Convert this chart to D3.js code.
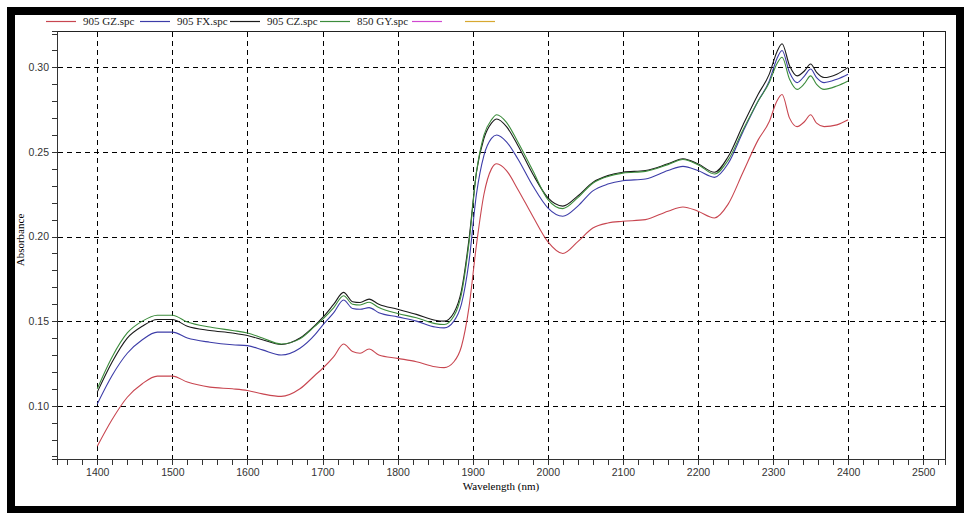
<!DOCTYPE html>
<html>
<head>
<meta charset="utf-8">
<script src="https://cdn.jsdelivr.net/npm/d3@7"></script>
<style>
  body { margin: 0; background: #fff; }
  .tick text { font-family: "Liberation Sans", Arial, sans-serif; font-size: 10.5px; fill: #333; }
  .axis path, .axis line { stroke: #333; shape-rendering: crispEdges; }
  .grid line { stroke: #000; stroke-dasharray: 5,4; shape-rendering: crispEdges; }
  .series { fill: none; stroke-width: 1.1; }
</style>
</head>
<body>
<div id="chart"></div>
<script>
// wavelengths (nm) shared by all spectra
const wavelengths = [1400, 1420, 1440, 1460, 1480, 1500, 1520, 1550, 1580, 1600, 1620, 1645, 1670, 1690, 1700, 1715, 1728, 1740, 1750, 1762, 1775, 1800, 1825, 1850, 1862, 1875, 1885, 1895, 1905, 1915, 1925, 1932, 1945, 1960, 1980, 2000, 2020, 2040, 2060, 2080, 2100, 2130, 2160, 2180, 2200, 2222, 2240, 2260, 2280, 2295, 2305, 2312, 2322, 2332, 2342, 2350, 2358, 2368, 2385, 2400];

const gz905 = [0.076, 0.092, 0.105, 0.113, 0.1175, 0.1175, 0.114, 0.111, 0.110, 0.109, 0.107, 0.1055, 0.110, 0.118, 0.122, 0.129, 0.1365, 0.132, 0.131, 0.1335, 0.130, 0.128, 0.126, 0.123, 0.1225, 0.126, 0.135, 0.158, 0.195, 0.225, 0.240, 0.243, 0.239, 0.228, 0.212, 0.197, 0.190, 0.197, 0.205, 0.208, 0.209, 0.210, 0.215, 0.2175, 0.215, 0.211, 0.219, 0.238, 0.257, 0.268, 0.280, 0.284, 0.270, 0.265, 0.268, 0.272, 0.267, 0.265, 0.266, 0.269];

const fx905 = [0.101, 0.118, 0.131, 0.139, 0.1435, 0.1435, 0.140, 0.1375, 0.136, 0.1355, 0.133, 0.130, 0.134, 0.142, 0.1475, 0.155, 0.1625, 0.1575, 0.157, 0.158, 0.155, 0.1525, 0.150, 0.1465, 0.146, 0.150, 0.160, 0.185, 0.225, 0.248, 0.258, 0.260, 0.256, 0.246, 0.230, 0.217, 0.212, 0.218, 0.227, 0.231, 0.233, 0.234, 0.239, 0.2415, 0.239, 0.235, 0.243, 0.262, 0.280, 0.292, 0.305, 0.310, 0.297, 0.291, 0.295, 0.299, 0.294, 0.291, 0.293, 0.296];

const cz905 = [0.108, 0.126, 0.140, 0.147, 0.151, 0.151, 0.147, 0.1445, 0.143, 0.1415, 0.139, 0.1362, 0.140, 0.1475, 0.152, 0.160, 0.167, 0.1615, 0.161, 0.163, 0.160, 0.157, 0.154, 0.1505, 0.150, 0.155, 0.168, 0.198, 0.238, 0.258, 0.267, 0.2695, 0.265, 0.254, 0.237, 0.223, 0.218, 0.224, 0.232, 0.236, 0.238, 0.239, 0.243, 0.246, 0.243, 0.238, 0.247, 0.266, 0.284, 0.296, 0.309, 0.314, 0.301, 0.295, 0.298, 0.302, 0.297, 0.294, 0.296, 0.300];

const gy850 = [0.110, 0.129, 0.143, 0.150, 0.1535, 0.1535, 0.1495, 0.1465, 0.1445, 0.143, 0.140, 0.1365, 0.1395, 0.147, 0.151, 0.158, 0.165, 0.160, 0.1595, 0.1612, 0.158, 0.1545, 0.152, 0.1485, 0.148, 0.153, 0.166, 0.196, 0.238, 0.260, 0.269, 0.272, 0.2675, 0.256, 0.239, 0.222, 0.2165, 0.223, 0.2315, 0.2355, 0.2375, 0.2385, 0.2425, 0.2455, 0.2425, 0.237, 0.245, 0.263, 0.280, 0.291, 0.302, 0.306, 0.293, 0.287, 0.2905, 0.295, 0.290, 0.287, 0.289, 0.292];

const legendNames = ["905 GZ.spc", "905 FX.spc", "905 CZ.spc", "850 GY.spc", "", ""];
const legendColors = ["#c84650", "#3c3ca8", "#1a1a1a", "#3c8c3c", "#d048d0", "#d8a830"];

const xMajor = d3.range(1400, 2501, 100);
const xMinor = d3.range(1360, 2521, 20);
const yMajor = [0.10, 0.15, 0.20, 0.25, 0.30];
const yMinor = d3.range(7, 33).map(d => d / 100);

const W = 964, H = 513;
const svg = d3.select("#chart").append("svg")
    .attr("width", W)
    .attr("height", H);

svg.append("rect").attr("width", W).attr("height", H).attr("fill", "#fff");

// black frame of the screenshot
svg.append("rect").attr("x", 7).attr("y", 7).attr("width", 8).attr("height", H - 7).attr("fill", "#000");
svg.append("rect").attr("x", 7).attr("y", 7).attr("width", W - 7).attr("height", 8).attr("fill", "#000");
svg.append("rect").attr("x", 7).attr("y", 506).attr("width", W - 7).attr("height", 7).attr("fill", "#000");
svg.append("rect").attr("x", 956).attr("y", 7).attr("width", 8).attr("height", H - 7).attr("fill", "#000");

let x = d3.scaleLinear().domain([1346.4, 2529]).range([57, 945]);
let y = d3.scaleLinear().domain([0.0685, 0.3215]).range([459, 31]);

// plot border
svg.append("rect")
    .attr("x", 57.5).attr("y", 31.5)
    .attr("width", 945 - 57).attr("height", 459 - 31)
    .attr("fill", "none").attr("stroke", "#222");

// dashed grid
let grid = svg.append("g").attr("class", "grid");
grid.selectAll(".gx").data(xMajor).join("line")
    .attr("x1", d => Math.round(x(d)) + 0.5).attr("x2", d => Math.round(x(d)) + 0.5)
    .attr("y1", 32).attr("y2", 459);
grid.selectAll(".gy").data(yMajor).join("line")
    .attr("x1", 58).attr("x2", 945)
    .attr("y1", d => Math.round(y(d)) + 0.5).attr("y2", d => Math.round(y(d)) + 0.5);

// axes
svg.append("g").attr("class", "axis")
    .attr("transform", "translate(0,459)")
    .call(d3.axisBottom(x).tickValues(xMinor).tickSize(6).tickFormat(""))
    .call(g => g.select(".domain").remove());
svg.append("g").attr("class", "axis")
    .attr("transform", "translate(0,459)")
    .call(d3.axisBottom(x).tickValues(xMajor).tickSize(6).tickPadding(4).tickFormat(d3.format("d")));

svg.append("g").attr("class", "axis")
    .attr("transform", "translate(57,0)")
    .call(d3.axisLeft(y).tickValues(yMinor).tickSize(5).tickFormat(""))
    .call(g => g.select(".domain").remove());
svg.append("g").attr("class", "axis")
    .attr("transform", "translate(57,0)")
    .call(d3.axisLeft(y).tickValues(yMajor).tickSize(5).tickPadding(3).tickFormat(d3.format(".2f")));

// axis titles
svg.append("text")
    .attr("x", 501).attr("y", 490)
    .attr("text-anchor", "middle")
    .style("font-family", "'Liberation Serif', 'Times New Roman', serif")
    .style("font-size", "11px")
    .text("Wavelength (nm)");
svg.append("text")
    .attr("transform", "translate(24,240) rotate(-90)")
    .attr("text-anchor", "middle")
    .style("font-family", "'Liberation Serif', 'Times New Roman', serif")
    .style("font-size", "11px")
    .text("Absorbance");

// spectra
const seriesList = [gz905, fx905, cz905, gy850];
let line = d3.line()
    .x((d, i) => x(wavelengths[i]))
    .y(d => y(d))
    .curve(d3.curveMonotoneX);

svg.append("g").selectAll("path")
    .data(seriesList)
    .join("path")
    .attr("class", "series")
    .attr("stroke", (d, i) => legendColors[i])
    .attr("d", line);

// legend
const legendX = [46, 140, 230, 320, 412, 465];
let legend = svg.append("g");
legend.selectAll("line")
    .data(legendNames)
    .join("line")
    .attr("x1", (d, i) => legendX[i]).attr("x2", (d, i) => legendX[i] + 30)
    .attr("y1", 21.5).attr("y2", 21.5)
    .attr("stroke", (d, i) => legendColors[i])
    .attr("stroke-width", 1.2);
legend.selectAll("text")
    .data(legendNames)
    .join("text")
    .attr("x", (d, i) => legendX[i] + 37)
    .attr("y", 25)
    .style("font-family", "'Liberation Serif', 'Times New Roman', serif")
    .style("font-size", "11px")
    .style("fill", "#222")
    .text(d => d);
</script>
</body>
</html>
